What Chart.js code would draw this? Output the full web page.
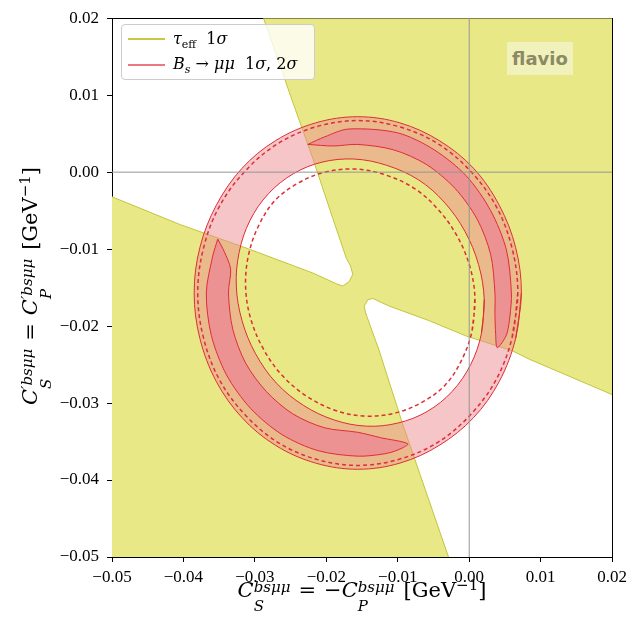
<!DOCTYPE html>
<html>
<head>
<meta charset="utf-8">
<script src="https://cdn.jsdelivr.net/npm/chart.js"></script>
<style>
  body { margin: 0; background: #fff; }
  #wrap { position: relative; width: 632px; height: 624px; overflow: hidden; }
  #plot { position: absolute; left: 0; top: 0; }
  .tex { position: absolute; font-family: 'DejaVu Serif', serif; color: #000; white-space: nowrap; }
  .ss { display: inline-block; vertical-align: -14px; line-height: 19px; font-size: 15px; font-style: italic; text-align: left; }
  .ss span { display: block; }
  .rel { margin: 0 8px; }
  .gap { margin-left: 9px; }
  .up { font-size: 15px; vertical-align: 7px; line-height: 0; }
  #xtitle { left: 62px; top: 570px; width: 600px; height: 40px; line-height: 40px; font-size: 21px; text-align: center; }
  #ytitle { left: -170px; top: 266px; width: 400px; height: 40px; line-height: 40px; font-size: 21px; text-align: center; transform: rotate(-90deg); }
  #legend { position: absolute; left: 121px; top: 24px; width: 192px; height: 54px; border: 1px solid #ccc; border-radius: 4px; background: rgba(255,255,255,0.8); }
  .swatch { position: absolute; left: 6px; width: 37px; }
  .entry { position: absolute; left: 51px; font-family: 'DejaVu Serif', serif; font-size: 16px; line-height: 20px; white-space: nowrap; }
  .entry sub { font-size: 11px; vertical-align: -4px; line-height: 0; }
  #flavio { position: absolute; left: 507px; top: 42px; width: 66px; height: 33px; background: rgb(241,241,187);
            font-family: 'DejaVu Sans', sans-serif; font-weight: bold; font-size: 18px; color: rgb(138,138,100);
            display: flex; align-items: center; justify-content: center; }
</style>
</head>
<body>
<div id="wrap">
  <canvas id="plot" width="632" height="624"></canvas>

  <div id="legend">
    <div class="swatch" style="top:13px;height:1.5px;background:rgb(200,200,70);"></div>
    <div class="entry" style="top:3.5px;"><i>τ</i><sub>eff</sub>&nbsp; 1<i>σ</i></div>
    <div class="swatch" style="top:39px;height:2px;background:rgb(235,120,125);"></div>
    <div class="entry" style="top:28.5px;"><i>B<sub>s</sub></i> → <i>μμ</i>&nbsp; 1<i>σ</i>, 2<i>σ</i></div>
  </div>

  <div id="flavio">flavio</div>

  <div class="tex" id="xtitle"><i>C</i><span class="ss"><span>bsμμ</span><span>S</span></span><span class="rel">=</span>−<i>C</i><span class="ss"><span>bsμμ</span><span>P</span></span><span class="gap">[GeV<span class="up">−1</span>]</span></div>
  <div class="tex" id="ytitle"><i>C</i><span class="ss"><span>′bsμμ</span><span>S</span></span><span class="rel">=</span><i>C</i><span class="ss"><span>′bsμμ</span><span>P</span></span><span class="gap">[GeV<span class="up">−1</span>]</span></div>
</div>

<script>
const xTicks = [-0.05, -0.04, -0.03, -0.02, -0.01, 0.00, 0.01, 0.02];
const yTicks = [-0.05, -0.04, -0.03, -0.02, -0.01, 0.00, 0.01, 0.02];
const xLim = [-0.05, 0.02];
const yLim = [-0.05, 0.02];

// tau_eff 1 sigma: edge of the upper-left white wedge (top -> left)
const tauEdgeUpper = [
  [-0.0288, 0.0200], [-0.0247, 0.0091], [-0.0219, 0.0018], [-0.0191, -0.0060], [-0.0172, -0.0112],
  [-0.0166, -0.0122], [-0.0163, -0.0133], [-0.0168, -0.0142], [-0.0177, -0.0148], [-0.0186, -0.0145],
  [-0.0219, -0.0131], [-0.0311, -0.0099], [-0.0405, -0.0068], [-0.0500, -0.0032]
];
// tau_eff 1 sigma: edge of the lower-right white wedge (bottom -> right)
const tauEdgeLower = [
  [-0.0029, -0.0500], [-0.0094, -0.0325], [-0.0126, -0.0232], [-0.0145, -0.0183], [-0.0147, -0.0174],
  [-0.0142, -0.0166], [-0.0135, -0.0164], [-0.0126, -0.0168], [-0.0112, -0.0174], [-0.0056, -0.0193],
  [-0.0004, -0.0213], [0.0060, -0.0232], [0.0084, -0.0243], [0.0200, -0.0289]
];

// Bs -> mumu 2 sigma ring
const bs2Outer = [
  [0.0073, -0.0157], [0.0065, -0.0098], [0.0042, -0.0043], [0.0006, 0.0005], [-0.0042, 0.0041], [-0.0097, 0.0064],
  [-0.0156, 0.0072], [-0.0215, 0.0064], [-0.0271, 0.0041], [-0.0318, 0.0005], [-0.0354, -0.0043], [-0.0377, -0.0098],
  [-0.0385, -0.0157], [-0.0377, -0.0216], [-0.0354, -0.0272], [-0.0318, -0.0319], [-0.0271, -0.0355], [-0.0215, -0.0378],
  [-0.0156, -0.0386], [-0.0097, -0.0378], [-0.0042, -0.0355], [0.0006, -0.0319], [0.0042, -0.0272], [0.0065, -0.0216]
];
const bs2Inner = [
  [0.0021, -0.0165], [0.0013, -0.0120], [-0.0006, -0.0077], [-0.0035, -0.0039], [-0.0071, -0.0010], [-0.0116, 0.0009],
  [-0.0161, 0.0017], [-0.0206, 0.0013], [-0.0246, -0.0002], [-0.0281, -0.0028], [-0.0307, -0.0063], [-0.0322, -0.0104],
  [-0.0326, -0.0148], [-0.0318, -0.0193], [-0.0299, -0.0236], [-0.0270, -0.0274], [-0.0232, -0.0303], [-0.0189, -0.0322],
  [-0.0144, -0.0330], [-0.0100, -0.0326], [-0.0059, -0.0311], [-0.0024, -0.0285], [0.0002, -0.0250], [0.0017, -0.0210]
];

// dashed contours
const dashOuter = [
  [0.0068, -0.0157], [0.0060, -0.0099], [0.0038, -0.0045], [0.0002, 0.0001], [-0.0044, 0.0037], [-0.0098, 0.0059],
  [-0.0156, 0.0067], [-0.0214, 0.0059], [-0.0268, 0.0037], [-0.0314, 0.0001], [-0.0350, -0.0045], [-0.0372, -0.0099],
  [-0.0380, -0.0157], [-0.0372, -0.0215], [-0.0350, -0.0269], [-0.0314, -0.0315], [-0.0268, -0.0351], [-0.0214, -0.0373],
  [-0.0156, -0.0381], [-0.0098, -0.0373], [-0.0044, -0.0351], [0.0002, -0.0315], [0.0038, -0.0269], [0.0060, -0.0215]
];
const dashInner = [
  [0.0008, -0.0164], [0.0001, -0.0123], [-0.0017, -0.0083], [-0.0044, -0.0048], [-0.0077, -0.0021], [-0.0119, -0.0003],
  [-0.0160, 0.0004], [-0.0202, 0.0000], [-0.0239, -0.0014], [-0.0272, -0.0037], [-0.0295, -0.0070], [-0.0309, -0.0108],
  [-0.0313, -0.0149], [-0.0306, -0.0190], [-0.0288, -0.0230], [-0.0261, -0.0265], [-0.0226, -0.0292], [-0.0186, -0.0310],
  [-0.0145, -0.0317], [-0.0104, -0.0313], [-0.0066, -0.0299], [-0.0033, -0.0276], [-0.0010, -0.0243], [0.0004, -0.0206]
];

// Bs -> mumu 1 sigma crescents
const bs1Upper = [
  [-0.0226, 0.0036], [-0.0202, 0.0046], [-0.0169, 0.0056], [-0.0100, 0.0051], [-0.0049, 0.0029], [-0.0004, -0.0005],
  [0.0030, -0.0050], [0.0052, -0.0101], [0.0059, -0.0157], [0.0057, -0.0187], [0.0053, -0.0209], [0.0047, -0.0220],
  [0.0039, -0.0228], [0.0037, -0.0211], [0.0036, -0.0184], [0.0036, -0.0157], [0.0030, -0.0107], [0.0011, -0.0061],
  [-0.0020, -0.0021], [-0.0060, 0.0010], [-0.0106, 0.0029], [-0.0156, 0.0036], [-0.0190, 0.0034], [-0.0226, 0.0036]
];
const bs1Lower = [
  [-0.0352, -0.0087], [-0.0359, -0.0109], [-0.0368, -0.0157], [-0.0361, -0.0212], [-0.0340, -0.0263], [-0.0306, -0.0307],
  [-0.0262, -0.0341], [-0.0211, -0.0362], [-0.0156, -0.0369], [-0.0119, -0.0366], [-0.0100, -0.0361], [-0.0086, -0.0353],
  [-0.0124, -0.0345], [-0.0156, -0.0338], [-0.0203, -0.0332], [-0.0247, -0.0314], [-0.0284, -0.0285], [-0.0313, -0.0248],
  [-0.0331, -0.0204], [-0.0337, -0.0157], [-0.0334, -0.0126], [-0.0343, -0.0103], [-0.0352, -0.0087]
];

const red = 'rgb(222,45,55)';
const olive = 'rgb(196,196,60)';
const fmt = v => (v < 0 ? '\u2212' : '') + Math.abs(v).toFixed(2);
const pts = arr => arr.map(p => ({x: p[0], y: p[1]}));
// closed outline; one segment overlaps so the spline has no corner where it starts
const loop = arr => [arr[arr.length - 1], ...arr, arr[0]];

// outer loop + inner loop reversed, joined by a doubled straight connector -> hole with nonzero fill
function ring(outer, inner) {
  const o0 = outer[0], i0 = inner[0];
  const back = inner.slice(1).reverse();
  return [...outer, o0, o0, i0, i0, ...back, i0, i0, o0];
}

const layers = [
  { data: pts([...tauEdgeUpper, [xLim[0], yLim[0]], ...tauEdgeLower, [xLim[1], yLim[1]]]),
    fill: 'shape', backgroundColor: 'rgb(232,232,134)', borderWidth: 0 },
  { data: pts(tauEdgeUpper), borderColor: olive },
  { data: pts(tauEdgeLower), borderColor: olive },
  { data: pts(ring(bs2Outer, bs2Inner)), fill: 'shape', backgroundColor: 'rgba(235,140,146,0.5)', borderWidth: 0, tension: 0.35 },
  { data: pts(bs1Upper), fill: 'shape', backgroundColor: 'rgb(236,146,146)', borderColor: red, tension: 0.3 },
  { data: pts(bs1Lower), fill: 'shape', backgroundColor: 'rgb(236,146,146)', borderColor: red, tension: 0.3 },
  { data: pts(loop(bs2Outer)), borderColor: red, tension: 0.35 },
  { data: pts(loop(bs2Inner)), borderColor: red, tension: 0.35 },
  { data: pts(loop(dashOuter)), borderColor: red, borderWidth: 1.5, borderDash: [4, 3], tension: 0.35 },
  { data: pts(loop(dashInner)), borderColor: red, borderWidth: 1.5, borderDash: [4, 3], tension: 0.35 },
  { data: pts([[xLim[0], 0], [xLim[1], 0]]), borderColor: 'rgb(150,150,150)' },
  { data: pts([[0, yLim[0]], [0, yLim[1]]]), borderColor: 'rgb(150,150,150)' }
];

const datasets = layers.map((d, i) => Object.assign({
  showLine: true, pointRadius: 0, pointHoverRadius: 0, pointHitRadius: 0,
  fill: false, tension: 0, borderWidth: 1, xAxisID: 'x', yAxisID: 'y', order: -i
}, d));

const tickFont = { family: 'Liberation Serif', size: 17 };

new Chart(document.getElementById('plot'), {
  type: 'scatter',
  data: { datasets },
  options: {
    responsive: false,
    animation: false,
    devicePixelRatio: 1,
    events: [],
    layout: { padding: 0 },
    plugins: { legend: { display: false }, tooltip: { enabled: false } },
    scales: {
      x: {
        type: 'linear', position: 'bottom', min: xLim[0], max: xLim[1], z: 1,
        afterBuildTicks: s => { s.ticks = xTicks.map(v => ({ value: v })); },
        afterFit: s => { s.height = 67; },
        ticks: { callback: fmt, font: tickFont, color: '#000', padding: 5, maxRotation: 0, autoSkip: false },
        grid: { drawOnChartArea: false, drawTicks: true, tickLength: 5, color: '#000', lineWidth: 1 },
        border: { display: true, color: '#000', width: 1 }
      },
      y: {
        type: 'linear', position: 'left', min: yLim[0], max: yLim[1], z: 1,
        afterBuildTicks: s => { s.ticks = yTicks.map(v => ({ value: v })); },
        afterFit: s => { s.width = 112; },
        ticks: { callback: fmt, font: tickFont, color: '#000', padding: 8, autoSkip: false },
        grid: { drawOnChartArea: false, drawTicks: true, tickLength: 5, color: '#000', lineWidth: 1 },
        border: { display: true, color: '#000', width: 1 }
      },
      x2: {
        type: 'linear', position: 'top', display: true, z: 1,
        afterFit: s => { s.height = 16; },
        ticks: { display: false }, grid: { display: false },
        border: { display: true, color: '#000', width: 1 }
      },
      y2: {
        type: 'linear', position: 'right', display: true, z: 1,
        afterFit: s => { s.width = 19; },
        ticks: { display: false }, grid: { display: false },
        border: { display: true, color: '#000', width: 1 }
      }
    }
  }
});
</script>
</body>
</html>
